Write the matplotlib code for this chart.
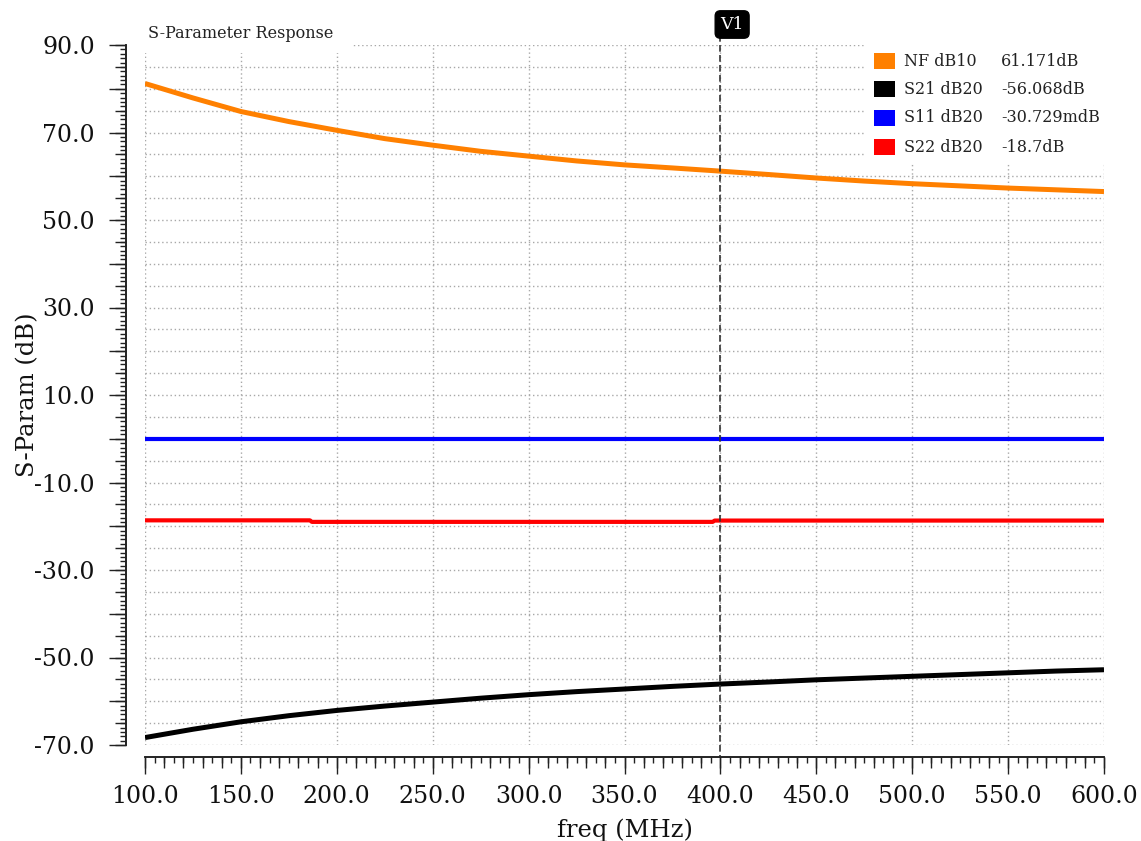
import matplotlib
matplotlib.use("Agg")
import matplotlib.pyplot as plt
import matplotlib.transforms as mtrans
from matplotlib.ticker import MultipleLocator, FuncFormatter
from matplotlib.patches import Rectangle

# ---------------- data ----------------
nf_freq = [100, 125, 150, 175, 200, 225, 250, 275, 300, 325, 350, 375, 400,
           425, 450, 475, 500, 525, 550, 575, 600]
nf_db = [81.2, 77.9, 74.8, 72.5, 70.5, 68.6, 67.1, 65.7, 64.6, 63.5, 62.6, 61.9, 61.17,
         60.4, 59.6, 58.9, 58.3, 57.8, 57.3, 56.9, 56.5]

s21_freq = [100, 125, 150, 175, 200, 225, 250, 275, 300, 325, 350, 375, 400,
            425, 450, 475, 500, 525, 550, 575, 600]
s21_db = [-68.3, -66.4, -64.7, -63.3, -62.1, -61.1, -60.2, -59.3, -58.5, -57.8, -57.2, -56.6, -56.068,
          -55.6, -55.1, -54.7, -54.3, -53.9, -53.5, -53.1, -52.8]

s11_freq = [100, 600]
s11_db = [-0.030729, -0.030729]

s22_freq = [100, 186, 187, 396, 397, 600]
s22_db = [-18.65, -18.65, -19.0, -19.0, -18.7, -18.7]

series_names = ["NF dB10", "S21 dB20", "S11 dB20", "S22 dB20"]
series_values = ["61.171dB", "-56.068dB", "-30.729mdB", "-18.7dB"]
series_colors = ["#ff8000", "#000000", "#0000ff", "#ff0000"]

marker_freq = 400
marker_name = "V1"
title_text = "S-Parameter Response"
x_label = "freq (MHz)"
y_label = "S-Param (dB)"
x_range = (100, 600)
y_range = (-70, 90)

# ---------------- figure ----------------
plt.rcParams["font.family"] = ["DejaVu Serif"]
W, H = 1141, 841
fig = plt.figure(figsize=(W / 100, H / 100), dpi=100)
L, R, T, B = 145, 1104, 45, 745
pos = [L / W, 1 - B / H, (R - L) / W, (B - T) / H]

def fx(px):
    return (px - L) / (R - L)

def fy(py):
    return (B - py) / (B - T)

axg = fig.add_axes(pos)  # grid layer
ax = fig.add_axes(pos)   # main layer
axm = fig.add_axes(pos)  # medium ticks
ax.patch.set_alpha(0)
axm.patch.set_alpha(0)

spine_col = "#222222"
for a in (axg, ax, axm):
    a.set_xlim(*x_range)
    a.set_ylim(*y_range)
    for s in ("top", "right"):
        a.spines[s].set_visible(False)
    a.spines["left"].set_position(("outward", 19 * 0.72))
    a.spines["bottom"].set_position(("outward", 12 * 0.72))
    for s in ("left", "bottom"):
        a.spines[s].set_color(spine_col)
        a.spines[s].set_linewidth(1.2)

# grid layer
axg.xaxis.set_major_locator(MultipleLocator(50))
axg.yaxis.set_major_locator(MultipleLocator(5))
axg.grid(True, color="#a8a8a8", linestyle=(0, (1, 2)), linewidth=1.0)
axg.tick_params(length=0, labelleft=False, labelbottom=False)
for s in ("left", "bottom"):
    axg.spines[s].set_visible(False)

# main ticks
ax.xaxis.set_major_locator(MultipleLocator(50))
ax.xaxis.set_minor_locator(MultipleLocator(5))
ax.yaxis.set_major_locator(MultipleLocator(10))
ax.yaxis.set_minor_locator(MultipleLocator(1))
ax.xaxis.set_major_formatter(FuncFormatter(lambda v, p: f"{v:.1f}"))
ax.yaxis.set_major_formatter(
    FuncFormatter(lambda v, p: f"{v:.1f}" if round(v - y_range[0]) % 20 == 0 else ""))
ax.tick_params(which="major", direction="out", length=12.5, width=1.0, color=spine_col,
               labelsize=17, labelcolor="#111111")
ax.tick_params(axis="y", which="major", pad=10)
ax.tick_params(axis="x", which="major", pad=8)
ax.tick_params(which="minor", direction="out", length=4.2, width=1.0, color=spine_col)

# medium ticks
axm.xaxis.set_major_locator(MultipleLocator(10))
axm.yaxis.set_major_locator(MultipleLocator(5))
axm.tick_params(which="major", direction="out", length=8, width=1.0, color=spine_col,
                labelleft=False, labelbottom=False)
axm.tick_params(which="minor", length=0)

# curves
ax.plot(nf_freq, nf_db, color=series_colors[0], lw=3.6, solid_capstyle="butt", zorder=3)
ax.plot(s21_freq, s21_db, color=series_colors[1], lw=3.6, solid_capstyle="butt", zorder=3)
ax.plot(s11_freq, s11_db, color=series_colors[2], lw=3.0, solid_capstyle="butt", zorder=3)
ax.plot(s22_freq, s22_db, color=series_colors[3], lw=3.0, solid_capstyle="butt", zorder=3)

# labels
ax.set_xlabel(x_label, fontsize=17.5, color="#111111", labelpad=0)
ax.xaxis.set_label_coords(0.5, fy(842), transform=ax.transAxes)
ax.xaxis.label.set_va("bottom")
ax.set_ylabel(y_label, fontsize=17.5, color="#111111")
ax.yaxis.set_label_coords(fx(28), 0.5, transform=ax.transAxes)
ax.yaxis.label.set_va("center")

# title box
ax.add_patch(Rectangle((fx(L), fy(53)), fx(352) - fx(L), fy(18) - fy(53),
                       transform=ax.transAxes, facecolor="white", edgecolor="none",
                       clip_on=False, zorder=4))
ax.text(fx(148), fy(33), title_text, transform=ax.transAxes, fontsize=11.5,
        color="#222222", ha="left", va="center", zorder=5)

# legend box
ax.add_patch(Rectangle((fx(866), fy(164)), 1.0 - fx(866) + 0.01, fy(40) - fy(164),
                       transform=ax.transAxes, facecolor="white", edgecolor="none",
                       clip_on=False, zorder=4))
row_y = [61, 89, 118, 147]
for name, val, col, ry in zip(series_names, series_values, series_colors, row_y):
    ax.add_patch(Rectangle((fx(874), fy(ry + 7.5)), fx(895) - fx(874), fy(ry - 7.5) - fy(ry + 7.5),
                           transform=ax.transAxes, facecolor=col, edgecolor="none",
                           clip_on=False, zorder=5))
    ax.text(fx(904), fy(ry), name, transform=ax.transAxes, fontsize=11.5,
            color="#222222", ha="left", va="center", zorder=5)
    ax.text(fx(1001), fy(ry), val, transform=ax.transAxes, fontsize=11.5,
            color="#222222", ha="left", va="center", zorder=5)

# marker line
blend = mtrans.blended_transform_factory(ax.transData, ax.transAxes)
ax.plot([marker_freq, marker_freq], [fy(35), fy(757)], transform=blend, color="#333333",
        lw=1.2, linestyle=(0, (4, 2)), clip_on=False, zorder=6)
ax.text(marker_freq, fy(33), marker_name, transform=blend, fontsize=12.5, color="white",
        ha="left", va="bottom", zorder=7,
        bbox=dict(boxstyle="round,pad=0.3,rounding_size=0.3", facecolor="black",
                  edgecolor="black"))

fig.savefig("out.png", dpi=100)
